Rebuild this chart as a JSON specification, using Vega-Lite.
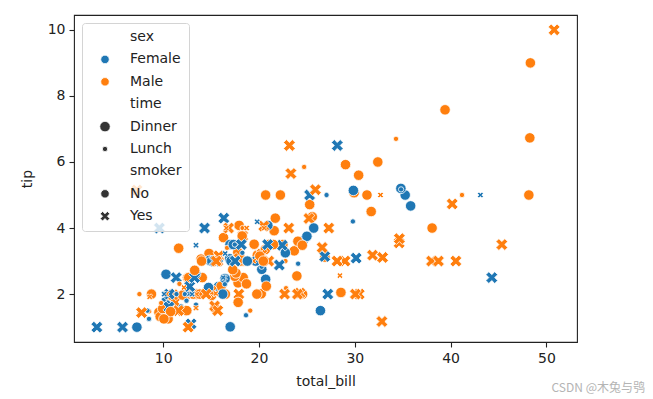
{
  "$schema": "https://vega.github.io/schema/vega-lite/v6.json",
  "width": 503,
  "height": 327,
  "autosize": "none",
  "padding": {"left": 74, "top": 15, "right": 76, "bottom": 57},
  "background": "white",
  "title": {"text": "CSDN @木兔与鸮", "orient": "bottom", "anchor": "end", "font": "Noto Sans CJK SC", "fontSize": 12, "fontWeight": "normal", "color": "#b4b4b4", "dx": 68, "dy": -9},
  "config": {
    "view": {"stroke": "#222", "strokeWidth": 1.1},
    "axis": {"grid": false, "domain": false, "tickColor": "#222", "tickSize": 5, "tickWidth": 1.1, "labelFont": "DejaVu Sans", "labelFontSize": 14, "labelColor": "#222", "titleFont": "DejaVu Sans", "titleFontSize": 14, "titleFontWeight": "normal", "titleColor": "#222", "labelPadding": 4},
    "legend": {"labelFont": "DejaVu Sans", "labelFontSize": 14, "labelColor": "#222", "fillColor": "rgba(255,255,255,0.8)", "strokeColor": "#d4d4d4", "cornerRadius": 3, "padding": 7, "rowPadding": 8.4, "symbolOffset": 9, "labelOffset": 18, "symbolStrokeColor": "white", "symbolStrokeWidth": 0.8}
  },
  "data": {"values": [
{"total_bill":16.99,"tip":1.01,"sex":"Female","smoker":"No","time":"Dinner"},
{"total_bill":10.34,"tip":1.66,"sex":"Male","smoker":"No","time":"Dinner"},
{"total_bill":21.01,"tip":3.5,"sex":"Male","smoker":"No","time":"Dinner"},
{"total_bill":23.68,"tip":3.31,"sex":"Male","smoker":"No","time":"Dinner"},
{"total_bill":24.59,"tip":3.61,"sex":"Female","smoker":"No","time":"Dinner"},
{"total_bill":25.29,"tip":4.71,"sex":"Male","smoker":"No","time":"Dinner"},
{"total_bill":8.77,"tip":2.0,"sex":"Male","smoker":"No","time":"Dinner"},
{"total_bill":26.88,"tip":3.12,"sex":"Male","smoker":"No","time":"Dinner"},
{"total_bill":15.04,"tip":1.96,"sex":"Male","smoker":"No","time":"Dinner"},
{"total_bill":14.78,"tip":3.23,"sex":"Male","smoker":"No","time":"Dinner"},
{"total_bill":10.27,"tip":1.71,"sex":"Male","smoker":"No","time":"Dinner"},
{"total_bill":35.26,"tip":5.0,"sex":"Female","smoker":"No","time":"Dinner"},
{"total_bill":15.42,"tip":1.57,"sex":"Male","smoker":"No","time":"Dinner"},
{"total_bill":18.43,"tip":3.0,"sex":"Male","smoker":"No","time":"Dinner"},
{"total_bill":14.83,"tip":3.02,"sex":"Female","smoker":"No","time":"Dinner"},
{"total_bill":21.58,"tip":3.92,"sex":"Male","smoker":"No","time":"Dinner"},
{"total_bill":10.33,"tip":1.67,"sex":"Female","smoker":"No","time":"Dinner"},
{"total_bill":16.29,"tip":3.71,"sex":"Male","smoker":"No","time":"Dinner"},
{"total_bill":16.97,"tip":3.5,"sex":"Female","smoker":"No","time":"Dinner"},
{"total_bill":20.65,"tip":3.35,"sex":"Male","smoker":"No","time":"Dinner"},
{"total_bill":17.92,"tip":4.08,"sex":"Male","smoker":"No","time":"Dinner"},
{"total_bill":20.29,"tip":2.75,"sex":"Female","smoker":"No","time":"Dinner"},
{"total_bill":15.77,"tip":2.23,"sex":"Female","smoker":"No","time":"Dinner"},
{"total_bill":39.42,"tip":7.58,"sex":"Male","smoker":"No","time":"Dinner"},
{"total_bill":19.82,"tip":3.18,"sex":"Male","smoker":"No","time":"Dinner"},
{"total_bill":17.81,"tip":2.34,"sex":"Male","smoker":"No","time":"Dinner"},
{"total_bill":13.37,"tip":2.0,"sex":"Male","smoker":"No","time":"Dinner"},
{"total_bill":12.69,"tip":2.0,"sex":"Male","smoker":"No","time":"Dinner"},
{"total_bill":21.7,"tip":4.3,"sex":"Male","smoker":"No","time":"Dinner"},
{"total_bill":19.65,"tip":3.0,"sex":"Female","smoker":"No","time":"Dinner"},
{"total_bill":9.55,"tip":1.45,"sex":"Male","smoker":"No","time":"Dinner"},
{"total_bill":18.35,"tip":2.5,"sex":"Male","smoker":"No","time":"Dinner"},
{"total_bill":15.06,"tip":3.0,"sex":"Female","smoker":"No","time":"Dinner"},
{"total_bill":20.69,"tip":2.45,"sex":"Female","smoker":"No","time":"Dinner"},
{"total_bill":17.78,"tip":3.27,"sex":"Male","smoker":"No","time":"Dinner"},
{"total_bill":24.06,"tip":3.6,"sex":"Male","smoker":"No","time":"Dinner"},
{"total_bill":16.31,"tip":2.0,"sex":"Male","smoker":"No","time":"Dinner"},
{"total_bill":16.93,"tip":3.07,"sex":"Female","smoker":"No","time":"Dinner"},
{"total_bill":18.69,"tip":2.31,"sex":"Male","smoker":"No","time":"Dinner"},
{"total_bill":31.27,"tip":5.0,"sex":"Male","smoker":"No","time":"Dinner"},
{"total_bill":16.04,"tip":2.24,"sex":"Male","smoker":"No","time":"Dinner"},
{"total_bill":17.46,"tip":2.54,"sex":"Male","smoker":"No","time":"Dinner"},
{"total_bill":13.94,"tip":3.06,"sex":"Male","smoker":"No","time":"Dinner"},
{"total_bill":9.68,"tip":1.32,"sex":"Male","smoker":"No","time":"Dinner"},
{"total_bill":30.4,"tip":5.6,"sex":"Male","smoker":"No","time":"Dinner"},
{"total_bill":18.29,"tip":3.0,"sex":"Male","smoker":"No","time":"Dinner"},
{"total_bill":22.23,"tip":5.0,"sex":"Male","smoker":"No","time":"Dinner"},
{"total_bill":32.4,"tip":6.0,"sex":"Male","smoker":"No","time":"Dinner"},
{"total_bill":28.55,"tip":2.05,"sex":"Male","smoker":"No","time":"Dinner"},
{"total_bill":18.04,"tip":3.0,"sex":"Male","smoker":"No","time":"Dinner"},
{"total_bill":12.54,"tip":2.5,"sex":"Male","smoker":"No","time":"Dinner"},
{"total_bill":10.29,"tip":2.6,"sex":"Female","smoker":"No","time":"Dinner"},
{"total_bill":34.81,"tip":5.2,"sex":"Female","smoker":"No","time":"Dinner"},
{"total_bill":9.94,"tip":1.56,"sex":"Male","smoker":"No","time":"Dinner"},
{"total_bill":25.56,"tip":4.34,"sex":"Male","smoker":"No","time":"Dinner"},
{"total_bill":19.49,"tip":3.51,"sex":"Male","smoker":"No","time":"Dinner"},
{"total_bill":38.01,"tip":3.0,"sex":"Male","smoker":"Yes","time":"Dinner"},
{"total_bill":26.41,"tip":1.5,"sex":"Female","smoker":"No","time":"Dinner"},
{"total_bill":11.24,"tip":1.76,"sex":"Male","smoker":"Yes","time":"Dinner"},
{"total_bill":48.27,"tip":6.73,"sex":"Male","smoker":"No","time":"Dinner"},
{"total_bill":20.29,"tip":3.21,"sex":"Male","smoker":"Yes","time":"Dinner"},
{"total_bill":13.81,"tip":2.0,"sex":"Male","smoker":"Yes","time":"Dinner"},
{"total_bill":11.02,"tip":1.98,"sex":"Male","smoker":"Yes","time":"Dinner"},
{"total_bill":18.29,"tip":3.76,"sex":"Male","smoker":"Yes","time":"Dinner"},
{"total_bill":17.59,"tip":2.64,"sex":"Male","smoker":"No","time":"Dinner"},
{"total_bill":20.08,"tip":3.15,"sex":"Male","smoker":"No","time":"Dinner"},
{"total_bill":16.45,"tip":2.47,"sex":"Female","smoker":"No","time":"Dinner"},
{"total_bill":3.07,"tip":1.0,"sex":"Female","smoker":"Yes","time":"Dinner"},
{"total_bill":20.23,"tip":2.01,"sex":"Male","smoker":"No","time":"Dinner"},
{"total_bill":15.01,"tip":2.09,"sex":"Male","smoker":"Yes","time":"Dinner"},
{"total_bill":12.02,"tip":1.97,"sex":"Male","smoker":"No","time":"Dinner"},
{"total_bill":17.07,"tip":3.0,"sex":"Female","smoker":"No","time":"Dinner"},
{"total_bill":26.86,"tip":3.14,"sex":"Female","smoker":"Yes","time":"Dinner"},
{"total_bill":25.28,"tip":5.0,"sex":"Female","smoker":"Yes","time":"Dinner"},
{"total_bill":14.73,"tip":2.2,"sex":"Female","smoker":"No","time":"Dinner"},
{"total_bill":10.51,"tip":1.25,"sex":"Male","smoker":"No","time":"Dinner"},
{"total_bill":17.92,"tip":3.08,"sex":"Male","smoker":"Yes","time":"Dinner"},
{"total_bill":27.2,"tip":4.0,"sex":"Male","smoker":"No","time":"Lunch"},
{"total_bill":22.76,"tip":3.0,"sex":"Male","smoker":"No","time":"Lunch"},
{"total_bill":17.29,"tip":2.71,"sex":"Male","smoker":"No","time":"Lunch"},
{"total_bill":19.44,"tip":3.0,"sex":"Male","smoker":"Yes","time":"Lunch"},
{"total_bill":16.66,"tip":3.4,"sex":"Male","smoker":"No","time":"Lunch"},
{"total_bill":10.07,"tip":1.83,"sex":"Female","smoker":"No","time":"Lunch"},
{"total_bill":32.68,"tip":5.0,"sex":"Male","smoker":"Yes","time":"Lunch"},
{"total_bill":15.98,"tip":2.03,"sex":"Male","smoker":"No","time":"Lunch"},
{"total_bill":34.83,"tip":5.17,"sex":"Female","smoker":"No","time":"Lunch"},
{"total_bill":13.03,"tip":2.0,"sex":"Male","smoker":"No","time":"Lunch"},
{"total_bill":18.28,"tip":4.0,"sex":"Male","smoker":"No","time":"Lunch"},
{"total_bill":24.71,"tip":5.85,"sex":"Male","smoker":"No","time":"Lunch"},
{"total_bill":21.16,"tip":3.0,"sex":"Male","smoker":"No","time":"Lunch"},
{"total_bill":28.97,"tip":3.0,"sex":"Male","smoker":"Yes","time":"Dinner"},
{"total_bill":22.49,"tip":3.5,"sex":"Male","smoker":"No","time":"Dinner"},
{"total_bill":5.75,"tip":1.0,"sex":"Female","smoker":"Yes","time":"Dinner"},
{"total_bill":16.32,"tip":4.3,"sex":"Female","smoker":"Yes","time":"Dinner"},
{"total_bill":22.75,"tip":3.25,"sex":"Female","smoker":"No","time":"Dinner"},
{"total_bill":40.17,"tip":4.73,"sex":"Male","smoker":"Yes","time":"Dinner"},
{"total_bill":27.28,"tip":4.0,"sex":"Male","smoker":"Yes","time":"Dinner"},
{"total_bill":12.03,"tip":1.5,"sex":"Male","smoker":"Yes","time":"Dinner"},
{"total_bill":21.01,"tip":3.0,"sex":"Male","smoker":"Yes","time":"Dinner"},
{"total_bill":12.46,"tip":1.5,"sex":"Male","smoker":"No","time":"Dinner"},
{"total_bill":11.35,"tip":2.5,"sex":"Female","smoker":"Yes","time":"Dinner"},
{"total_bill":15.38,"tip":3.0,"sex":"Female","smoker":"Yes","time":"Dinner"},
{"total_bill":44.3,"tip":2.5,"sex":"Female","smoker":"Yes","time":"Dinner"},
{"total_bill":22.42,"tip":3.48,"sex":"Female","smoker":"Yes","time":"Dinner"},
{"total_bill":20.92,"tip":4.08,"sex":"Female","smoker":"No","time":"Dinner"},
{"total_bill":15.36,"tip":1.64,"sex":"Male","smoker":"Yes","time":"Dinner"},
{"total_bill":20.49,"tip":4.06,"sex":"Male","smoker":"Yes","time":"Dinner"},
{"total_bill":25.21,"tip":4.29,"sex":"Male","smoker":"Yes","time":"Dinner"},
{"total_bill":18.24,"tip":3.76,"sex":"Male","smoker":"No","time":"Dinner"},
{"total_bill":14.31,"tip":4.0,"sex":"Female","smoker":"Yes","time":"Dinner"},
{"total_bill":14.0,"tip":3.0,"sex":"Male","smoker":"No","time":"Dinner"},
{"total_bill":7.25,"tip":1.0,"sex":"Female","smoker":"No","time":"Dinner"},
{"total_bill":38.07,"tip":4.0,"sex":"Male","smoker":"No","time":"Dinner"},
{"total_bill":23.95,"tip":2.55,"sex":"Male","smoker":"No","time":"Dinner"},
{"total_bill":25.71,"tip":4.0,"sex":"Female","smoker":"No","time":"Dinner"},
{"total_bill":17.31,"tip":3.5,"sex":"Female","smoker":"No","time":"Dinner"},
{"total_bill":29.93,"tip":5.07,"sex":"Male","smoker":"No","time":"Dinner"},
{"total_bill":10.65,"tip":1.5,"sex":"Female","smoker":"No","time":"Lunch"},
{"total_bill":12.43,"tip":1.8,"sex":"Female","smoker":"No","time":"Lunch"},
{"total_bill":24.08,"tip":2.92,"sex":"Female","smoker":"No","time":"Lunch"},
{"total_bill":11.69,"tip":2.31,"sex":"Male","smoker":"No","time":"Lunch"},
{"total_bill":13.42,"tip":1.68,"sex":"Female","smoker":"No","time":"Lunch"},
{"total_bill":14.26,"tip":2.5,"sex":"Male","smoker":"No","time":"Lunch"},
{"total_bill":15.95,"tip":2.0,"sex":"Male","smoker":"No","time":"Lunch"},
{"total_bill":12.48,"tip":2.52,"sex":"Female","smoker":"No","time":"Lunch"},
{"total_bill":29.8,"tip":4.2,"sex":"Female","smoker":"No","time":"Lunch"},
{"total_bill":8.52,"tip":1.48,"sex":"Male","smoker":"No","time":"Lunch"},
{"total_bill":14.52,"tip":2.0,"sex":"Female","smoker":"No","time":"Lunch"},
{"total_bill":11.38,"tip":2.0,"sex":"Female","smoker":"No","time":"Lunch"},
{"total_bill":22.82,"tip":2.18,"sex":"Male","smoker":"No","time":"Lunch"},
{"total_bill":19.08,"tip":1.5,"sex":"Male","smoker":"No","time":"Lunch"},
{"total_bill":20.27,"tip":2.83,"sex":"Female","smoker":"No","time":"Lunch"},
{"total_bill":11.17,"tip":1.5,"sex":"Female","smoker":"No","time":"Lunch"},
{"total_bill":12.26,"tip":2.0,"sex":"Female","smoker":"No","time":"Lunch"},
{"total_bill":18.26,"tip":3.25,"sex":"Female","smoker":"No","time":"Lunch"},
{"total_bill":8.51,"tip":1.25,"sex":"Female","smoker":"No","time":"Lunch"},
{"total_bill":10.33,"tip":2.0,"sex":"Female","smoker":"No","time":"Lunch"},
{"total_bill":14.15,"tip":2.0,"sex":"Female","smoker":"No","time":"Lunch"},
{"total_bill":16.0,"tip":2.0,"sex":"Male","smoker":"Yes","time":"Lunch"},
{"total_bill":13.16,"tip":2.75,"sex":"Female","smoker":"No","time":"Lunch"},
{"total_bill":17.47,"tip":3.5,"sex":"Female","smoker":"No","time":"Lunch"},
{"total_bill":34.3,"tip":6.7,"sex":"Male","smoker":"No","time":"Lunch"},
{"total_bill":41.19,"tip":5.0,"sex":"Male","smoker":"No","time":"Lunch"},
{"total_bill":27.05,"tip":5.0,"sex":"Female","smoker":"No","time":"Lunch"},
{"total_bill":16.43,"tip":2.3,"sex":"Female","smoker":"No","time":"Lunch"},
{"total_bill":8.35,"tip":1.5,"sex":"Female","smoker":"No","time":"Lunch"},
{"total_bill":18.64,"tip":1.36,"sex":"Female","smoker":"No","time":"Lunch"},
{"total_bill":11.87,"tip":1.63,"sex":"Female","smoker":"No","time":"Lunch"},
{"total_bill":9.78,"tip":1.73,"sex":"Male","smoker":"No","time":"Lunch"},
{"total_bill":7.51,"tip":2.0,"sex":"Male","smoker":"No","time":"Lunch"},
{"total_bill":14.07,"tip":2.5,"sex":"Male","smoker":"No","time":"Dinner"},
{"total_bill":13.13,"tip":2.0,"sex":"Male","smoker":"No","time":"Dinner"},
{"total_bill":17.26,"tip":2.74,"sex":"Male","smoker":"No","time":"Dinner"},
{"total_bill":24.55,"tip":2.0,"sex":"Male","smoker":"No","time":"Dinner"},
{"total_bill":19.77,"tip":2.0,"sex":"Male","smoker":"No","time":"Dinner"},
{"total_bill":29.85,"tip":5.14,"sex":"Female","smoker":"No","time":"Dinner"},
{"total_bill":48.17,"tip":5.0,"sex":"Male","smoker":"No","time":"Dinner"},
{"total_bill":25.0,"tip":3.75,"sex":"Female","smoker":"No","time":"Dinner"},
{"total_bill":13.39,"tip":2.61,"sex":"Female","smoker":"No","time":"Dinner"},
{"total_bill":16.49,"tip":2.0,"sex":"Male","smoker":"No","time":"Dinner"},
{"total_bill":21.5,"tip":3.5,"sex":"Male","smoker":"No","time":"Dinner"},
{"total_bill":12.66,"tip":2.5,"sex":"Male","smoker":"No","time":"Dinner"},
{"total_bill":16.21,"tip":2.0,"sex":"Female","smoker":"No","time":"Dinner"},
{"total_bill":13.81,"tip":2.0,"sex":"Male","smoker":"No","time":"Dinner"},
{"total_bill":17.51,"tip":3.0,"sex":"Female","smoker":"Yes","time":"Dinner"},
{"total_bill":24.52,"tip":3.48,"sex":"Male","smoker":"No","time":"Dinner"},
{"total_bill":20.76,"tip":2.24,"sex":"Male","smoker":"No","time":"Dinner"},
{"total_bill":31.71,"tip":4.5,"sex":"Male","smoker":"No","time":"Dinner"},
{"total_bill":10.59,"tip":1.61,"sex":"Female","smoker":"Yes","time":"Dinner"},
{"total_bill":10.63,"tip":2.0,"sex":"Female","smoker":"Yes","time":"Dinner"},
{"total_bill":50.81,"tip":10.0,"sex":"Male","smoker":"Yes","time":"Dinner"},
{"total_bill":15.81,"tip":3.16,"sex":"Male","smoker":"Yes","time":"Dinner"},
{"total_bill":7.25,"tip":5.15,"sex":"Male","smoker":"Yes","time":"Dinner"},
{"total_bill":31.85,"tip":3.18,"sex":"Male","smoker":"Yes","time":"Dinner"},
{"total_bill":16.82,"tip":4.0,"sex":"Male","smoker":"Yes","time":"Dinner"},
{"total_bill":32.9,"tip":3.11,"sex":"Male","smoker":"Yes","time":"Dinner"},
{"total_bill":17.89,"tip":2.0,"sex":"Male","smoker":"Yes","time":"Dinner"},
{"total_bill":14.48,"tip":2.0,"sex":"Male","smoker":"Yes","time":"Dinner"},
{"total_bill":9.6,"tip":4.0,"sex":"Female","smoker":"Yes","time":"Dinner"},
{"total_bill":34.63,"tip":3.55,"sex":"Male","smoker":"Yes","time":"Dinner"},
{"total_bill":34.65,"tip":3.68,"sex":"Male","smoker":"Yes","time":"Dinner"},
{"total_bill":23.33,"tip":5.65,"sex":"Male","smoker":"Yes","time":"Dinner"},
{"total_bill":45.35,"tip":3.5,"sex":"Male","smoker":"Yes","time":"Dinner"},
{"total_bill":23.17,"tip":6.5,"sex":"Male","smoker":"Yes","time":"Dinner"},
{"total_bill":40.55,"tip":3.0,"sex":"Male","smoker":"Yes","time":"Dinner"},
{"total_bill":20.69,"tip":5.0,"sex":"Male","smoker":"No","time":"Dinner"},
{"total_bill":20.9,"tip":3.5,"sex":"Female","smoker":"Yes","time":"Dinner"},
{"total_bill":30.46,"tip":2.0,"sex":"Male","smoker":"Yes","time":"Dinner"},
{"total_bill":18.15,"tip":3.5,"sex":"Female","smoker":"Yes","time":"Dinner"},
{"total_bill":23.1,"tip":4.0,"sex":"Male","smoker":"Yes","time":"Dinner"},
{"total_bill":15.69,"tip":1.5,"sex":"Male","smoker":"Yes","time":"Dinner"},
{"total_bill":19.81,"tip":4.19,"sex":"Female","smoker":"Yes","time":"Lunch"},
{"total_bill":28.44,"tip":2.56,"sex":"Male","smoker":"Yes","time":"Lunch"},
{"total_bill":15.48,"tip":2.02,"sex":"Male","smoker":"Yes","time":"Lunch"},
{"total_bill":16.58,"tip":4.0,"sex":"Male","smoker":"Yes","time":"Lunch"},
{"total_bill":7.56,"tip":1.44,"sex":"Male","smoker":"No","time":"Lunch"},
{"total_bill":10.34,"tip":2.0,"sex":"Male","smoker":"Yes","time":"Lunch"},
{"total_bill":43.11,"tip":5.0,"sex":"Female","smoker":"Yes","time":"Lunch"},
{"total_bill":13.0,"tip":2.0,"sex":"Female","smoker":"Yes","time":"Lunch"},
{"total_bill":13.51,"tip":2.0,"sex":"Male","smoker":"Yes","time":"Lunch"},
{"total_bill":18.71,"tip":4.0,"sex":"Male","smoker":"Yes","time":"Lunch"},
{"total_bill":12.74,"tip":2.01,"sex":"Female","smoker":"Yes","time":"Lunch"},
{"total_bill":13.0,"tip":2.0,"sex":"Female","smoker":"Yes","time":"Lunch"},
{"total_bill":16.4,"tip":2.5,"sex":"Female","smoker":"Yes","time":"Lunch"},
{"total_bill":20.53,"tip":4.0,"sex":"Male","smoker":"Yes","time":"Lunch"},
{"total_bill":16.47,"tip":3.23,"sex":"Female","smoker":"Yes","time":"Lunch"},
{"total_bill":26.59,"tip":3.41,"sex":"Male","smoker":"Yes","time":"Dinner"},
{"total_bill":38.73,"tip":3.0,"sex":"Male","smoker":"Yes","time":"Dinner"},
{"total_bill":24.27,"tip":2.03,"sex":"Male","smoker":"Yes","time":"Dinner"},
{"total_bill":12.76,"tip":2.23,"sex":"Female","smoker":"Yes","time":"Dinner"},
{"total_bill":30.06,"tip":2.0,"sex":"Male","smoker":"Yes","time":"Dinner"},
{"total_bill":25.89,"tip":5.16,"sex":"Male","smoker":"Yes","time":"Dinner"},
{"total_bill":48.33,"tip":9.0,"sex":"Male","smoker":"No","time":"Dinner"},
{"total_bill":13.27,"tip":2.5,"sex":"Female","smoker":"Yes","time":"Dinner"},
{"total_bill":28.17,"tip":6.5,"sex":"Female","smoker":"Yes","time":"Dinner"},
{"total_bill":12.9,"tip":1.1,"sex":"Female","smoker":"Yes","time":"Dinner"},
{"total_bill":28.15,"tip":3.0,"sex":"Male","smoker":"Yes","time":"Dinner"},
{"total_bill":11.59,"tip":1.5,"sex":"Male","smoker":"Yes","time":"Dinner"},
{"total_bill":7.74,"tip":1.44,"sex":"Male","smoker":"Yes","time":"Dinner"},
{"total_bill":30.14,"tip":3.09,"sex":"Female","smoker":"Yes","time":"Dinner"},
{"total_bill":12.16,"tip":2.2,"sex":"Male","smoker":"Yes","time":"Lunch"},
{"total_bill":13.42,"tip":3.48,"sex":"Female","smoker":"Yes","time":"Lunch"},
{"total_bill":8.58,"tip":1.92,"sex":"Male","smoker":"Yes","time":"Lunch"},
{"total_bill":15.98,"tip":3.0,"sex":"Female","smoker":"No","time":"Lunch"},
{"total_bill":13.42,"tip":1.58,"sex":"Male","smoker":"Yes","time":"Lunch"},
{"total_bill":16.27,"tip":2.5,"sex":"Female","smoker":"Yes","time":"Lunch"},
{"total_bill":10.09,"tip":2.0,"sex":"Female","smoker":"Yes","time":"Lunch"},
{"total_bill":20.45,"tip":3.0,"sex":"Male","smoker":"No","time":"Dinner"},
{"total_bill":13.28,"tip":2.72,"sex":"Male","smoker":"No","time":"Dinner"},
{"total_bill":22.12,"tip":2.88,"sex":"Female","smoker":"Yes","time":"Dinner"},
{"total_bill":24.01,"tip":2.0,"sex":"Male","smoker":"Yes","time":"Dinner"},
{"total_bill":15.69,"tip":3.0,"sex":"Male","smoker":"Yes","time":"Dinner"},
{"total_bill":11.61,"tip":3.39,"sex":"Male","smoker":"No","time":"Dinner"},
{"total_bill":10.77,"tip":1.47,"sex":"Male","smoker":"No","time":"Dinner"},
{"total_bill":15.53,"tip":3.0,"sex":"Male","smoker":"Yes","time":"Dinner"},
{"total_bill":10.07,"tip":1.25,"sex":"Male","smoker":"No","time":"Dinner"},
{"total_bill":12.6,"tip":1.0,"sex":"Male","smoker":"Yes","time":"Dinner"},
{"total_bill":32.83,"tip":1.17,"sex":"Male","smoker":"Yes","time":"Dinner"},
{"total_bill":35.83,"tip":4.67,"sex":"Female","smoker":"No","time":"Dinner"},
{"total_bill":29.03,"tip":5.92,"sex":"Male","smoker":"No","time":"Dinner"},
{"total_bill":27.18,"tip":2.0,"sex":"Female","smoker":"Yes","time":"Dinner"},
{"total_bill":22.67,"tip":2.0,"sex":"Male","smoker":"Yes","time":"Dinner"},
{"total_bill":17.82,"tip":1.75,"sex":"Male","smoker":"No","time":"Dinner"},
{"total_bill":18.78,"tip":3.0,"sex":"Female","smoker":"No","time":"Dinner"}
  ]},
  "mark": {"type": "point", "filled": true, "opacity": 1, "stroke": "white", "strokeWidth": 0.8},
  "encoding": {
    "x": {"field": "total_bill", "type": "quantitative", "title": "total_bill",
      "scale": {"domain": [0.683, 53.197], "nice": false, "zero": false},
      "axis": {"values": [10, 20, 30, 40, 50], "titlePadding": 9}},
    "y": {"field": "tip", "type": "quantitative", "title": "tip",
      "scale": {"domain": [0.55, 10.45], "nice": false, "zero": false},
      "axis": {"values": [2, 4, 6, 8, 10], "titlePadding": 13}},
    "color": {"field": "sex", "type": "nominal",
      "scale": {"domain": ["sex", "Female", "Male", "time", "Dinner", "Lunch", "smoker", "No", "Yes"],
        "range": ["transparent", "#1f77b4", "#ff7f0e", "transparent", "#333333", "#333333", "transparent", "#333333", "#333333"]},
      "legend": {"title": null, "orient": "none", "legendX": 8, "legendY": 8}},
    "size": {"field": "time", "type": "nominal",
      "scale": {"type": "ordinal", "domain": ["sex", "Female", "Male", "time", "Dinner", "Lunch", "smoker", "No", "Yes"],
        "range": [1, 72, 72, 1, 110, 28, 1, 72, 72]},
      "legend": {"title": null, "orient": "none", "legendX": 8, "legendY": 8}},
    "shape": {"field": "smoker", "type": "nominal",
      "scale": {"domain": ["sex", "Female", "Male", "time", "Dinner", "Lunch", "smoker", "No", "Yes"],
        "range": ["circle", "circle", "circle", "circle", "circle", "circle", "circle", "circle", "M0.564,0L1.128,0.564L0.564,1.128L0,0.564L-0.564,1.128L-1.128,0.564L-0.564,0L-1.128,-0.564L-0.564,-1.128L0,-0.564L0.564,-1.128L1.128,-0.564Z"]},
      "legend": {"title": null, "orient": "none", "legendX": 8, "legendY": 8}}
  }
}
